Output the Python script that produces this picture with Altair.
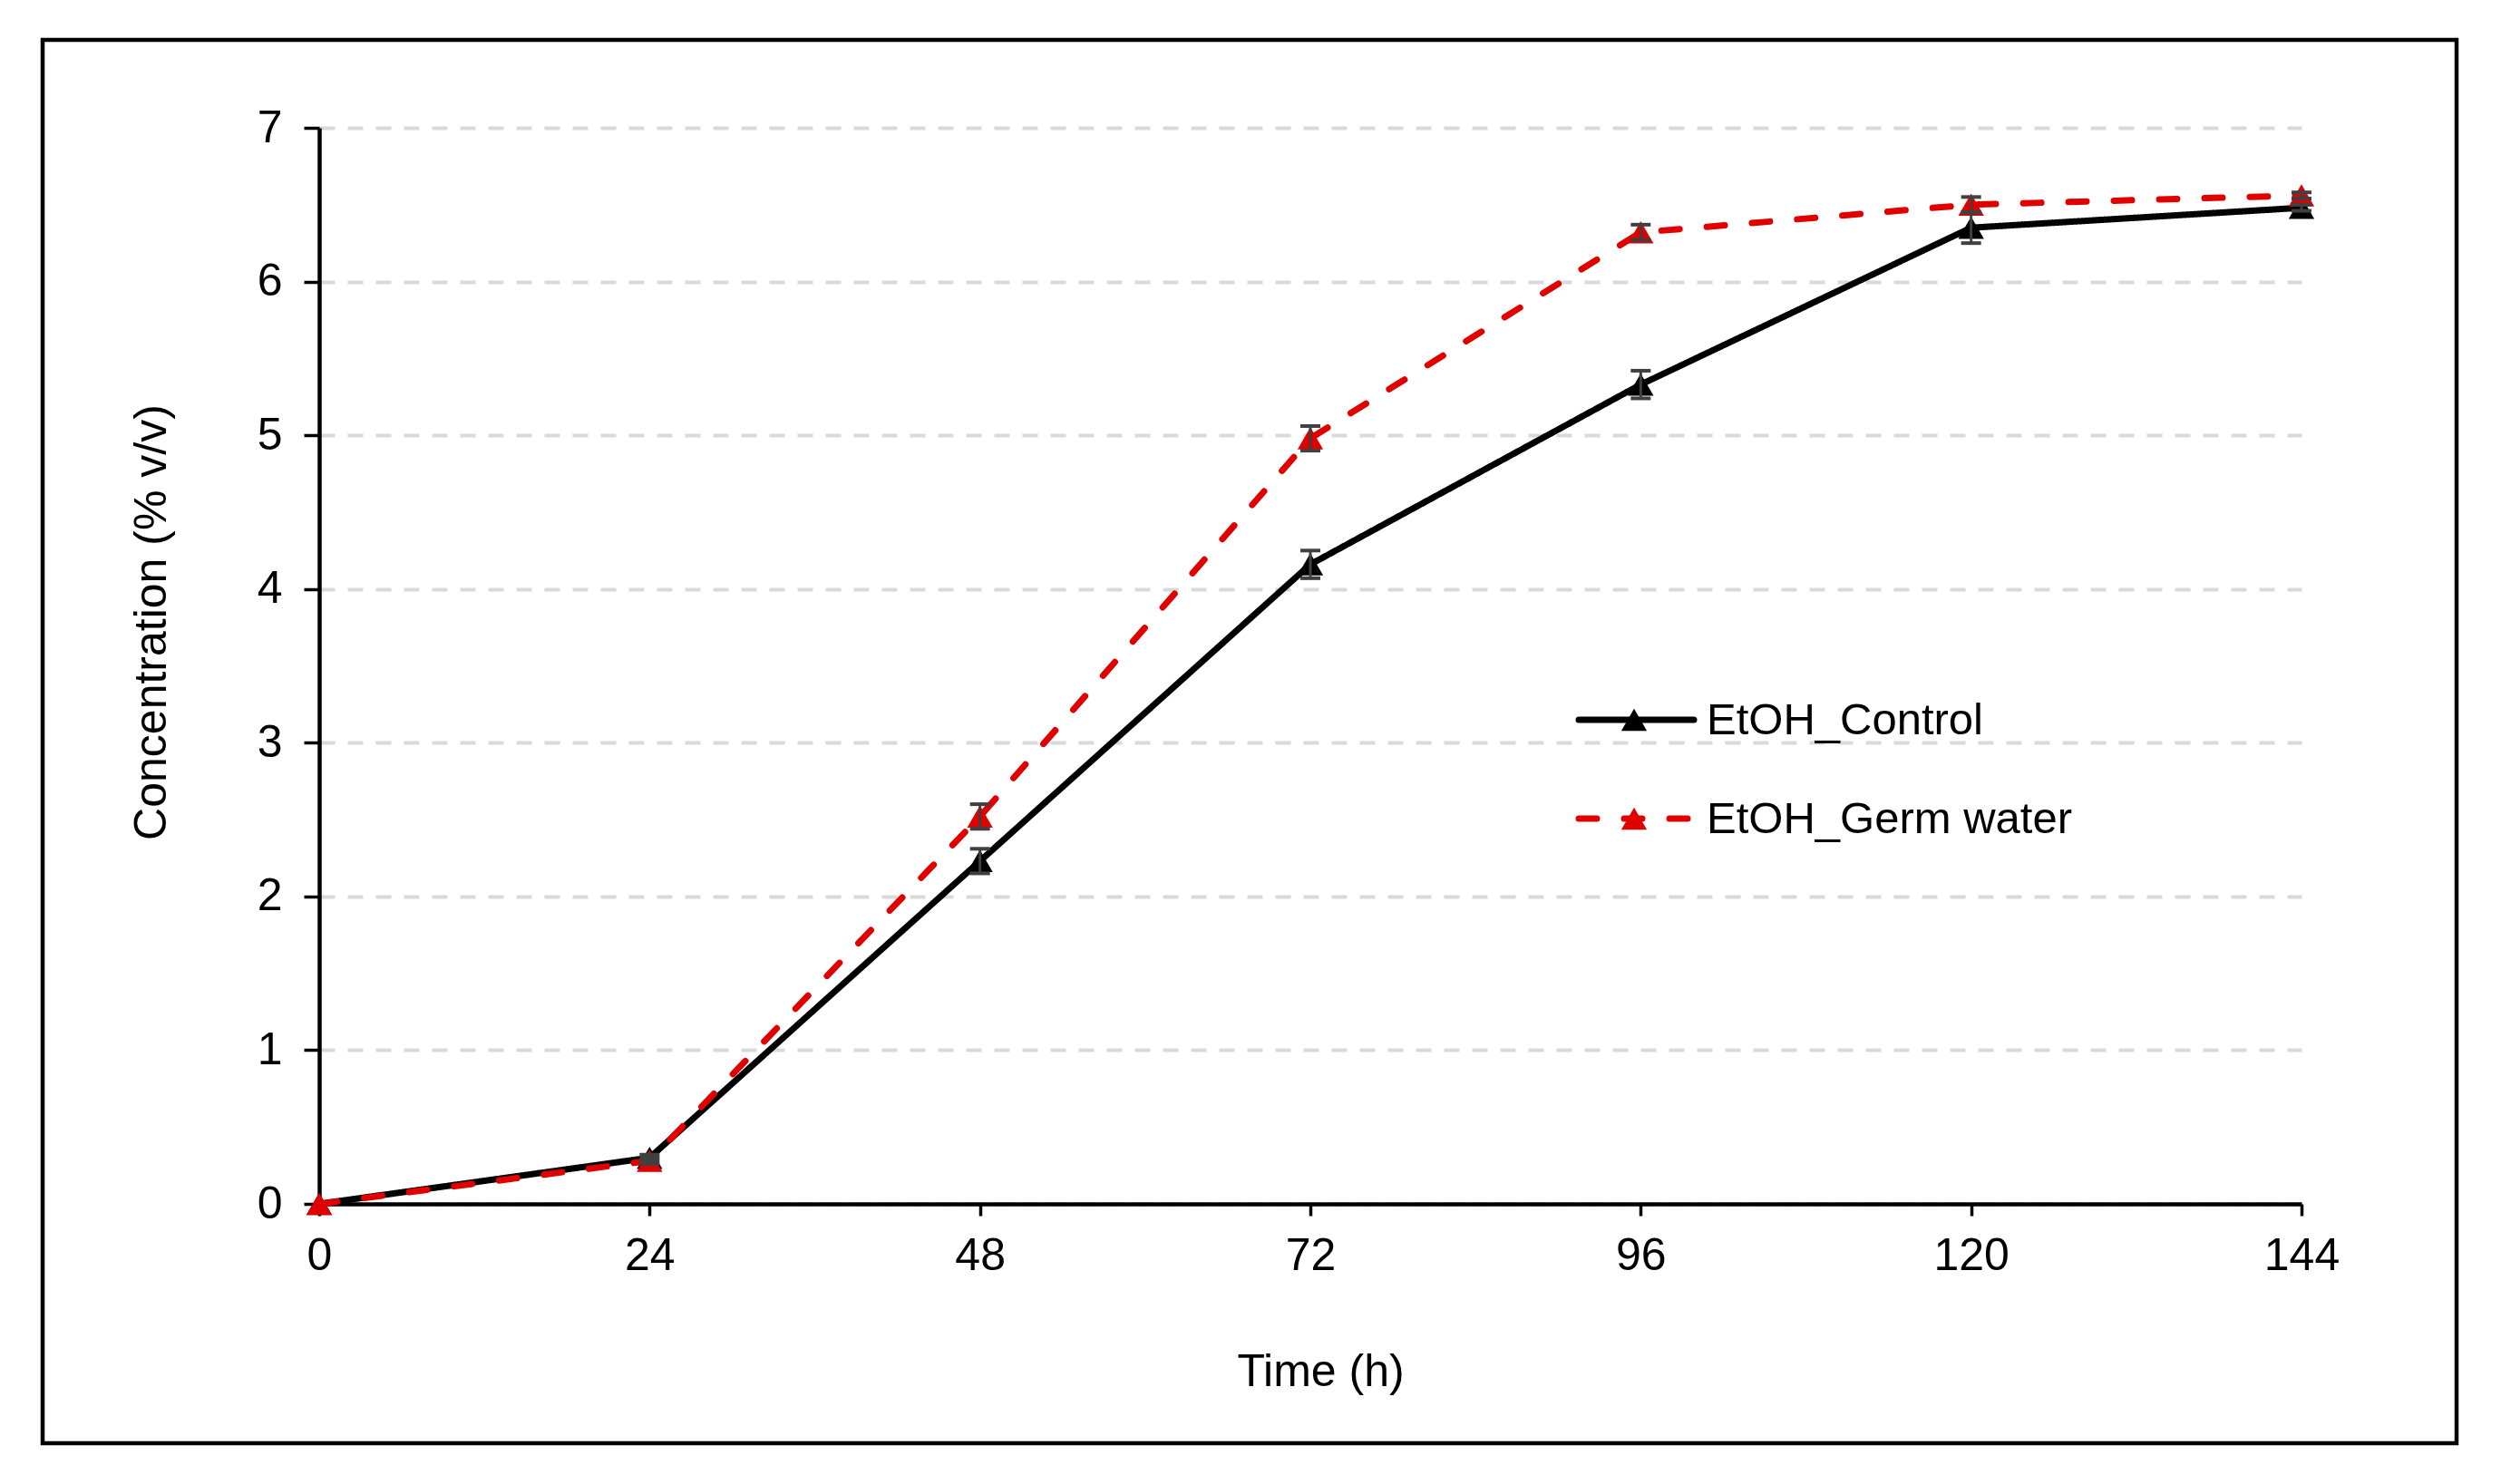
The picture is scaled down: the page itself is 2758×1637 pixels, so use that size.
import altair as alt
import pandas as pd

hours = [0, 24, 48, 72, 96, 120, 144]
series_names = ["EtOH_Control", "EtOH_Germ water"]
control = [0.00, 0.30, 2.23, 4.16, 5.33, 6.35, 6.48]
control_err = [0.00, 0.02, 0.08, 0.09, 0.09, 0.10, 0.02]
germ = [0.00, 0.28, 2.52, 4.98, 6.32, 6.50, 6.56]
germ_err = [0.00, 0.02, 0.08, 0.08, 0.05, 0.05, 0.02]
x_ticks = [0, 24, 48, 72, 96, 120, 144]
y_ticks = [0, 1, 2, 3, 4, 5, 6, 7]
colors = ["#000000", "#e00000"]
dashes = [[1, 0], [20, 30]]

FONT = "Liberation Sans"
values = [control, germ]
errs = [control_err, germ_err]

xscale = alt.Scale(domain=[0, 144], nice=False, zero=False)
yscale = alt.Scale(domain=[0, 7], nice=False)

xaxis = alt.Axis(values=x_ticks, title="Time (h)", grid=False, labelFontSize=50,
                 labelFont=FONT, labelColor="black", labelPadding=19, tickSize=13,
                 tickWidth=3.5, tickColor="black", domainColor="black", domainWidth=4.5,
                 titleFont=FONT, titleFontSize=50, titleFontWeight="normal",
                 titleColor="black", titleX=1104, titleY=185, titleBaseline="middle",
                 titleAlign="center", labelFlush=False, format="d")
yaxis = alt.Axis(values=y_ticks, title="Concentration (% v/v)", grid=True,
                 gridColor="#d9d9d9", gridWidth=4, gridDash=[17, 14],
                 labelFontSize=50, labelFont=FONT, labelColor="black", labelPadding=24,
                 tickSize=17, tickWidth=3.5, tickColor="black", domainColor="black",
                 domainWidth=4.5, titleFont=FONT, titleFontSize=50,
                 titleFontWeight="normal", titleColor="black", titleX=-185,
                 titleY=545, titleAngle=-90, titleBaseline="middle",
                 titleAlign="center", labelFlush=False, format="d")

layers = []
base_df = pd.DataFrame({"t": hours, "v": control})
layers.append(alt.Chart(base_df).mark_point(opacity=0).encode(
    x=alt.X("t:Q", scale=xscale, axis=xaxis),
    y=alt.Y("v:Q", scale=yscale, axis=yaxis)))

for i, name in enumerate(series_names):
    df = pd.DataFrame({"t": hours, "v": values[i], "e": errs[i]})
    line = alt.Chart(df).mark_line(color=colors[i], strokeWidth=7,
                                   strokeDash=dashes[i], strokeCap="round").encode(
        x=alt.X("t:Q", scale=xscale), y=alt.Y("v:Q", scale=yscale))
    pts = alt.Chart(df).mark_point(shape="triangle-up", filled=True, size=800,
                                   color=colors[i], opacity=1).encode(
        x=alt.X("t:Q", scale=xscale), y=alt.Y("v:Q", scale=yscale))
    layers += [line, pts]

for i, name in enumerate(series_names):
    df = pd.DataFrame({"t": hours, "v": values[i], "e": errs[i]})
    df = df[df["e"] > 0].copy()
    df["lo"] = df["v"] - df["e"]
    df["hi"] = df["v"] + df["e"]
    rule = alt.Chart(df).mark_rule(color="#404040", strokeWidth=3).encode(
        x=alt.X("t:Q", scale=xscale), y=alt.Y("lo:Q", scale=yscale), y2="hi:Q")
    cap_lo = alt.Chart(df).mark_tick(orient="horizontal", size=22, thickness=4,
                                     color="#404040", opacity=1).encode(
        x=alt.X("t:Q", scale=xscale), y=alt.Y("lo:Q", scale=yscale))
    cap_hi = alt.Chart(df).mark_tick(orient="horizontal", size=22, thickness=4,
                                     color="#404040", opacity=1).encode(
        x=alt.X("t:Q", scale=xscale), y=alt.Y("hi:Q", scale=yscale))
    layers += [rule, cap_lo, cap_hi]

# legend
for i, name in enumerate(series_names):
    ldf = pd.DataFrame({"label": [name]})
    yy = 653 + 109 * i
    layers.append(alt.Chart(ldf).mark_rule(color=colors[i], strokeWidth=7,
                                           strokeDash=dashes[i], strokeCap="round").encode(
        x=alt.value(1389), x2=alt.value(1516), y=alt.value(yy)))
    layers.append(alt.Chart(ldf).mark_point(shape="triangle-up", filled=True, size=800,
                                            color=colors[i], opacity=1).encode(
        x=alt.value(1450), y=alt.value(yy)))
    layers.append(alt.Chart(ldf).mark_text(font=FONT, fontSize=49, color="black",
                                           align="left", baseline="middle").encode(
        x=alt.value(1530), y=alt.value(yy + 1), text="label:N"))

# figure border
bdf = pd.DataFrame({"a": [0]})
layers.append(alt.Chart(bdf).mark_rect(fillOpacity=0, stroke="black", strokeWidth=4.5).encode(
    x=alt.value(-305), x2=alt.value(2357), y=alt.value(-97), y2=alt.value(1451)))

chart = alt.layer(*layers).properties(
    width=2186, height=1187,
    background="white",
    autosize=alt.AutoSizeParams(type="none"),
    padding={"left": 344, "top": 133, "right": 200, "bottom": 290},
).configure_view(strokeWidth=0, stroke="transparent").configure_axisX(grid=False)

chart.save("out.html", embed_options={"renderer": "svg", "actions": False})
